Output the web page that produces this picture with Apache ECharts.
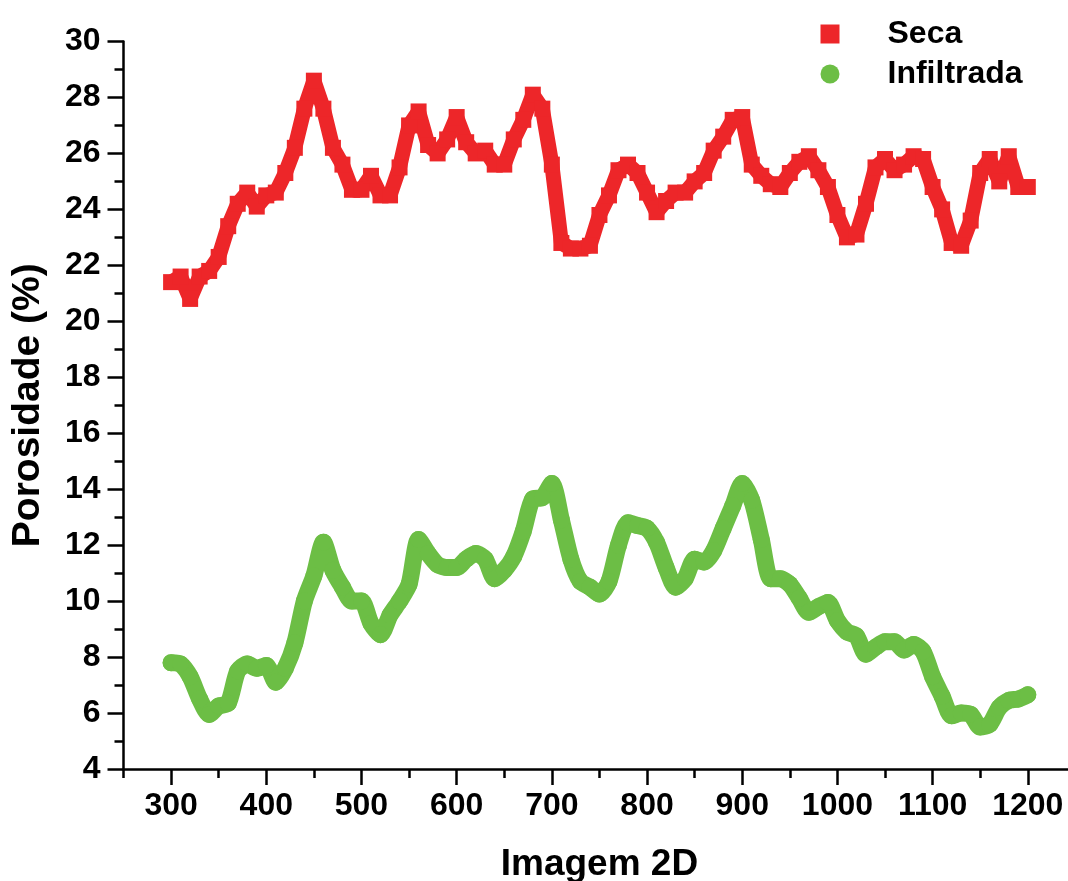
<!DOCTYPE html>
<html>
<head>
<meta charset="utf-8">
<script src="https://cdn.jsdelivr.net/npm/echarts@6/dist/echarts.min.js"></script>
<style>
html,body{margin:0;padding:0;background:#fff;}
#chart{width:1068px;height:881px;}
</style>
</head>
<body>
<div id="chart"></div>
<script>
// X positions (Imagem 2D) sampled every 10
const xValues = [];
for (let v = 300; v <= 1200; v += 10) xValues.push(v);

const secaValues = [
  21.4, 21.6, 20.8, 21.6, 21.8, 22.3, 23.4, 24.2, 24.6, 24.1,
  24.5, 24.6, 25.3, 26.2, 27.6, 28.6, 27.6, 26.2, 25.6, 24.7,
  24.7, 25.2, 24.5, 24.5, 25.5, 27.0, 27.5, 26.3, 26.0, 26.5,
  27.3, 26.4, 26.0, 26.1, 25.6, 25.6, 26.5, 27.2, 28.1, 27.6,
  25.6, 22.8, 22.6, 22.6, 22.7, 23.8, 24.5, 25.4, 25.6, 25.3,
  24.6, 23.9, 24.3, 24.6, 24.6, 25.0, 25.3, 26.1, 26.6, 27.2,
  27.3, 25.6, 25.2, 24.9, 24.8, 25.3, 25.7, 25.9, 25.4, 24.8,
  23.8, 23.0, 23.1, 24.2, 25.5, 25.8, 25.4, 25.6, 25.9, 25.8,
  24.8, 24.0, 22.8, 22.7, 23.6, 25.3, 25.8, 25.0, 25.9, 24.8,
  24.8
];

const infiltradaValues = [
  7.8, 7.75, 7.3, 6.5, 5.95, 6.25, 6.35, 7.5, 7.75, 7.6,
  7.7, 7.1, 7.6, 8.5, 10.0, 10.9, 12.1, 11.1, 10.5, 10.0,
  10.0, 9.2, 8.8, 9.5, 10.0, 10.6, 12.2, 11.7, 11.3, 11.2,
  11.2, 11.5, 11.7, 11.5, 10.8, 11.1, 11.6, 12.5, 13.65, 13.7,
  14.2, 12.9, 11.5, 10.7, 10.5, 10.25, 10.7, 12.0, 12.8, 12.7,
  12.6, 12.1, 11.2, 10.5, 10.8, 11.5, 11.4, 11.8, 12.6, 13.4,
  14.2, 13.6, 12.2, 10.8, 10.8, 10.6, 10.1, 9.6, 9.8, 9.95,
  9.3, 8.9, 8.75, 8.1, 8.35, 8.55, 8.55, 8.25, 8.45, 8.2,
  7.3, 6.6, 5.9, 6.0, 5.95, 5.5, 5.6, 6.2, 6.45, 6.5,
  6.65
];

const xTickLabels = [300, 400, 500, 600, 700, 800, 900, 1000, 1100, 1200];
const seriesNames = ['Seca', 'Infiltrada'];
const xTitle = 'Imagem 2D';
const yTitle = 'Porosidade (%)';

const RED = '#ED2629';
const GREEN = '#6CBE45';
const FONT = 'Liberation Sans';

const secaData = xValues.map((x, i) => [x, secaValues[i]]);
const infData = xValues.map((x, i) => [x, infiltradaValues[i]]);

const chart = echarts.init(document.getElementById('chart'), null, {renderer: 'canvas'});

const axisLine = {show: true, lineStyle: {color: '#000', width: 2.5}};

chart.setOption({
  animation: false,
  backgroundColor: '#fff',
  grid: {left: 123.5, top: 41.5, bottom: 112, right: -7.4, containLabel: false, outerBoundsMode: 'none'},
  legend: {
    left: 815.5,
    top: 13,
    orient: 'vertical',
    itemWidth: 19,
    itemHeight: 19,
    itemGap: 8,
    itemStyle: {borderWidth: 0},
    formatter: function (name) { return '{t|' + name + '}'; },
    textStyle: {
      fontFamily: FONT, fontWeight: 'bold', fontSize: 32, color: '#000',
      rich: {t: {fontFamily: FONT, fontWeight: 'bold', fontSize: 32, color: '#000', padding: [0, 0, 0, 43]}}
    },
    data: [
      {name: seriesNames[0], icon: 'rect'},
      {name: seriesNames[1], icon: 'circle'}
    ]
  },
  xAxis: [
    {
      type: 'value', min: 250, max: 1250, interval: 50,
      axisLine: axisLine,
      axisTick: {show: true, length: 9, lineStyle: {color: '#000', width: 2.5}},
      axisLabel: {show: false},
      splitLine: {show: false},
      name: xTitle,
      nameLocation: 'middle',
      nameGap: 77,
      nameTextStyle: {fontFamily: FONT, fontWeight: 'bold', fontSize: 37, color: '#000'}
    },
    {
      type: 'value', min: 250, max: 1250,
      position: 'bottom',
      axisLine: {show: false},
      axisTick: {show: true, length: 16, customValues: xTickLabels, lineStyle: {color: '#000', width: 2.5}},
      axisLabel: {show: true, customValues: xTickLabels, margin: 21,
        formatter: function (v) { return String(v); },
        fontFamily: FONT, fontWeight: 'bold', fontSize: 32, color: '#000'},
      splitLine: {show: false}
    }
  ],
  yAxis: {
    type: 'value', min: 4, max: 30, interval: 2,
    axisLine: axisLine,
    axisTick: {show: true, length: 16, lineStyle: {color: '#000', width: 2.5}},
    minorTick: {show: true, splitNumber: 2, length: 9, lineStyle: {color: '#000', width: 2.5}},
    axisLabel: {margin: 23, fontFamily: FONT, fontWeight: 'bold', fontSize: 32, color: '#000'},
    splitLine: {show: false},
    minorSplitLine: {show: false},
    name: yTitle,
    nameLocation: 'middle',
    nameGap: 76,
    nameTextStyle: {fontFamily: FONT, fontWeight: 'bold', fontSize: 39, color: '#000'}
  },
  series: [
    {
      name: seriesNames[0], type: 'line', xAxisIndex: 0,
      data: secaData,
      symbol: 'rect', symbolSize: 16, showSymbol: true,
      itemStyle: {color: RED, borderWidth: 0},
      lineStyle: {color: RED, width: 15, join: 'bevel'},
      emphasis: {disabled: true}
    },
    {
      name: seriesNames[1], type: 'line', xAxisIndex: 0,
      data: infData,
      smooth: 0.25,
      symbol: 'circle', symbolSize: 17, showSymbol: true,
      itemStyle: {color: GREEN, borderWidth: 0},
      lineStyle: {color: GREEN, width: 17, cap: 'round', join: 'round'},
      emphasis: {disabled: true}
    }
  ]
});
</script>
</body>
</html>
